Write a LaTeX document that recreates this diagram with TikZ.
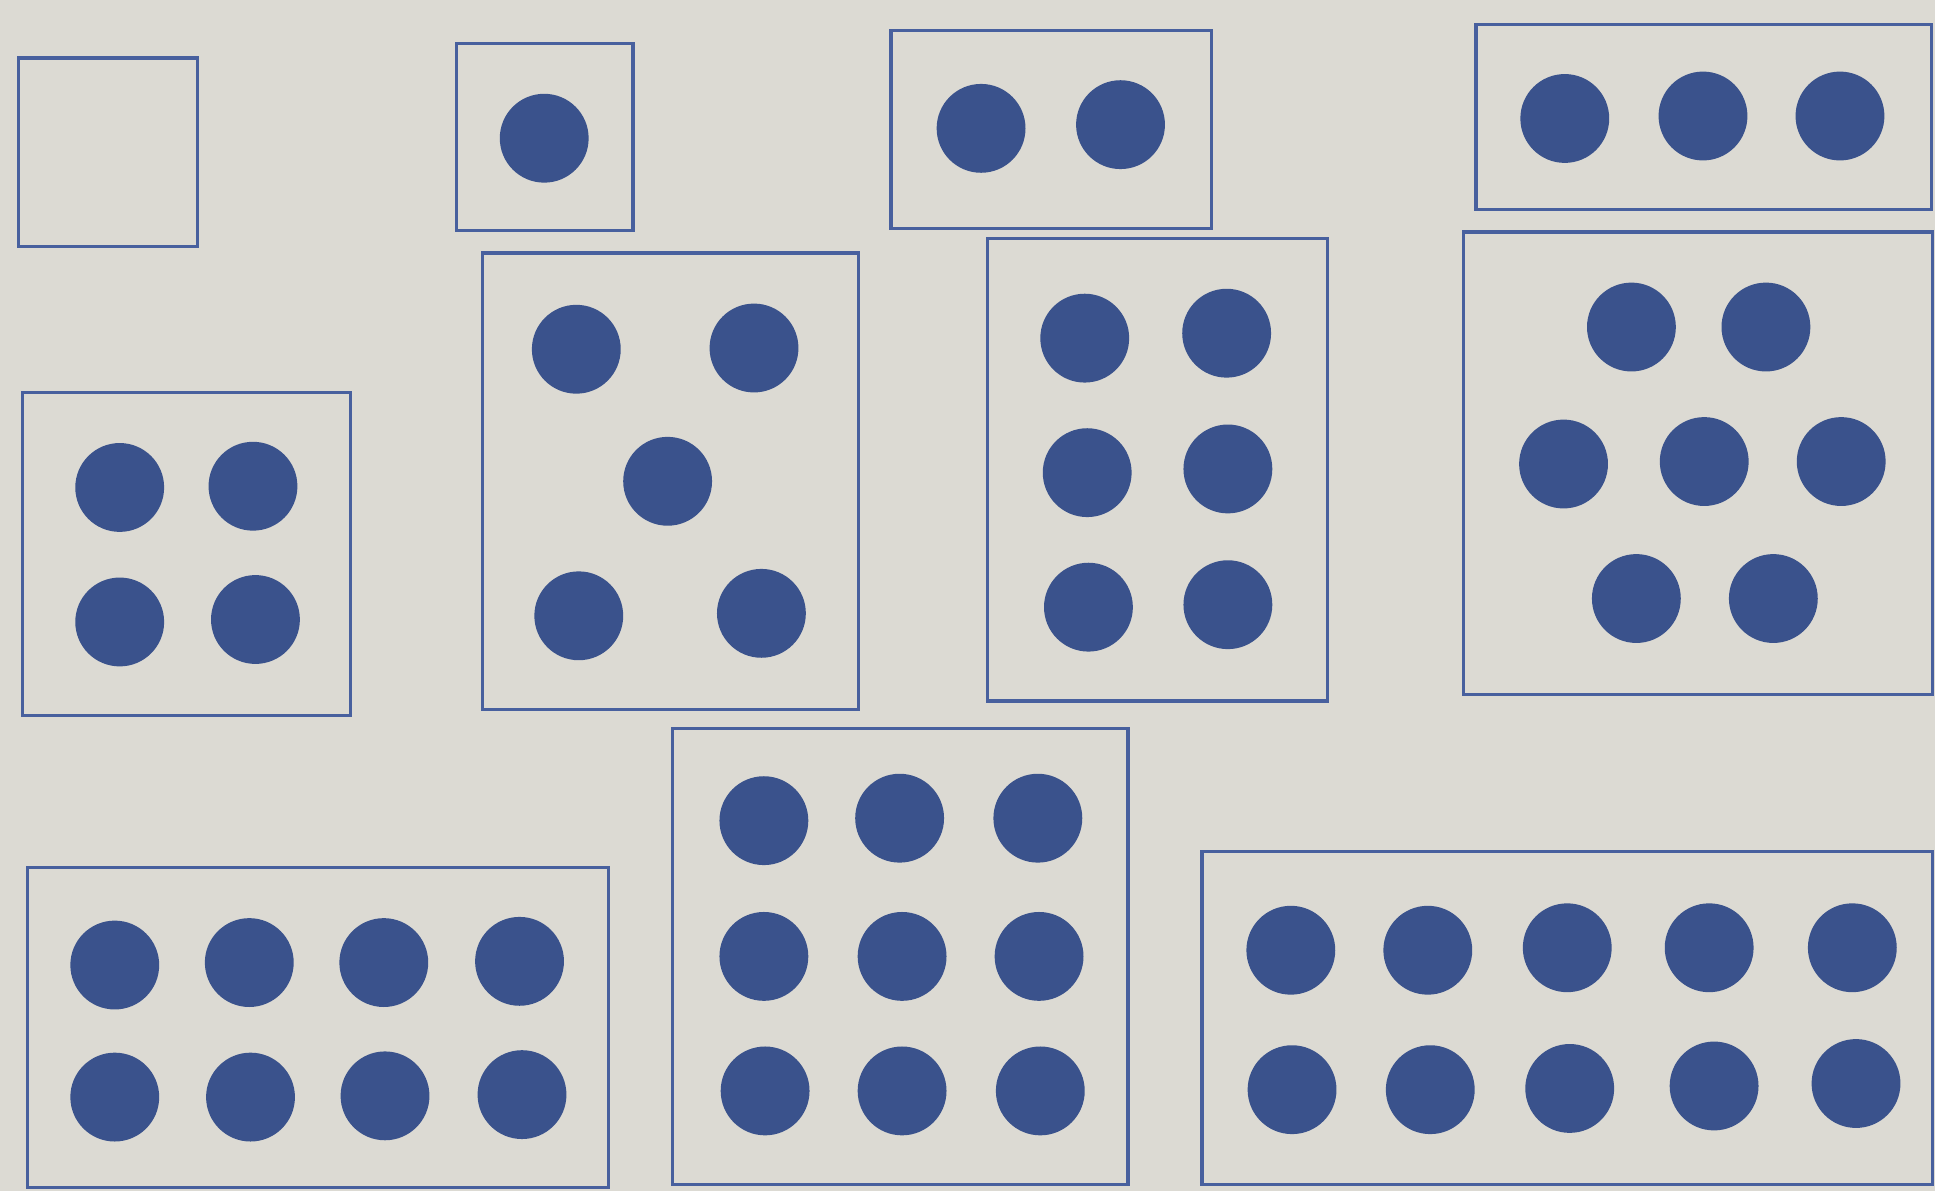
\documentclass[tikz,border=0pt]{standalone}
\usepackage{xcolor}
\definecolor{paper}{RGB}{220,218,211}
\definecolor{ink}{RGB}{58,82,140}
\definecolor{rule}{RGB}{72,96,158}
\begin{document}
\begin{tikzpicture}[
  x=0.01234cm, y=-0.01234cm,
  card/.style={draw=rule, line width=0.9pt},
  dot/.style={fill=ink}
]
\fill[paper] (0,0) rectangle (1568,965);
% cards 0 to 10
\draw[card] (15,47) rectangle (160,200);
\draw[card] (370,35) rectangle (513,187);
\draw[card] (722,25) rectangle (982,185);
\draw[card] (1196,20) rectangle (1565,170);
\draw[card] (18,318) rectangle (284,580);
\draw[card] (391,205) rectangle (696,575);
\draw[card] (800,193) rectangle (1076,568);
\draw[card] (1186,188) rectangle (1566,563);
\draw[card] (22,703) rectangle (493,962);
\draw[card] (545,590) rectangle (914,960);
\draw[card] (974,690) rectangle (1566,960);
% dots
\foreach \p in {(441,112),
  (795,104),(908,101),
  (1268,96),(1380,94),(1491,94),
  (97,395),(205,394),(97,504),(207,502),
  (467,283),(611,282),(541,390),(469,499),(617,497),
  (879,274),(994,270),(881,383),(995,380),(882,492),(995,490),
  (1322,265),(1431,265),(1267,376),(1381,374),(1492,374),(1326,485),(1437,485),
  (93,782),(202,780),(311,780),(421,779),(93,889),(203,889),(312,888),(423,887),
  (619,665),(729,663),(841,663),(619,775),(731,775),(842,775),(620,884),(731,884),(843,884),
  (1046,770),(1157,770),(1270,768),(1385,768),(1501,768),
  (1047,883),(1159,883),(1272,882),(1389,880),(1504,878)}
  \fill[dot] \p circle[radius=36];
\end{tikzpicture}
\end{document}
